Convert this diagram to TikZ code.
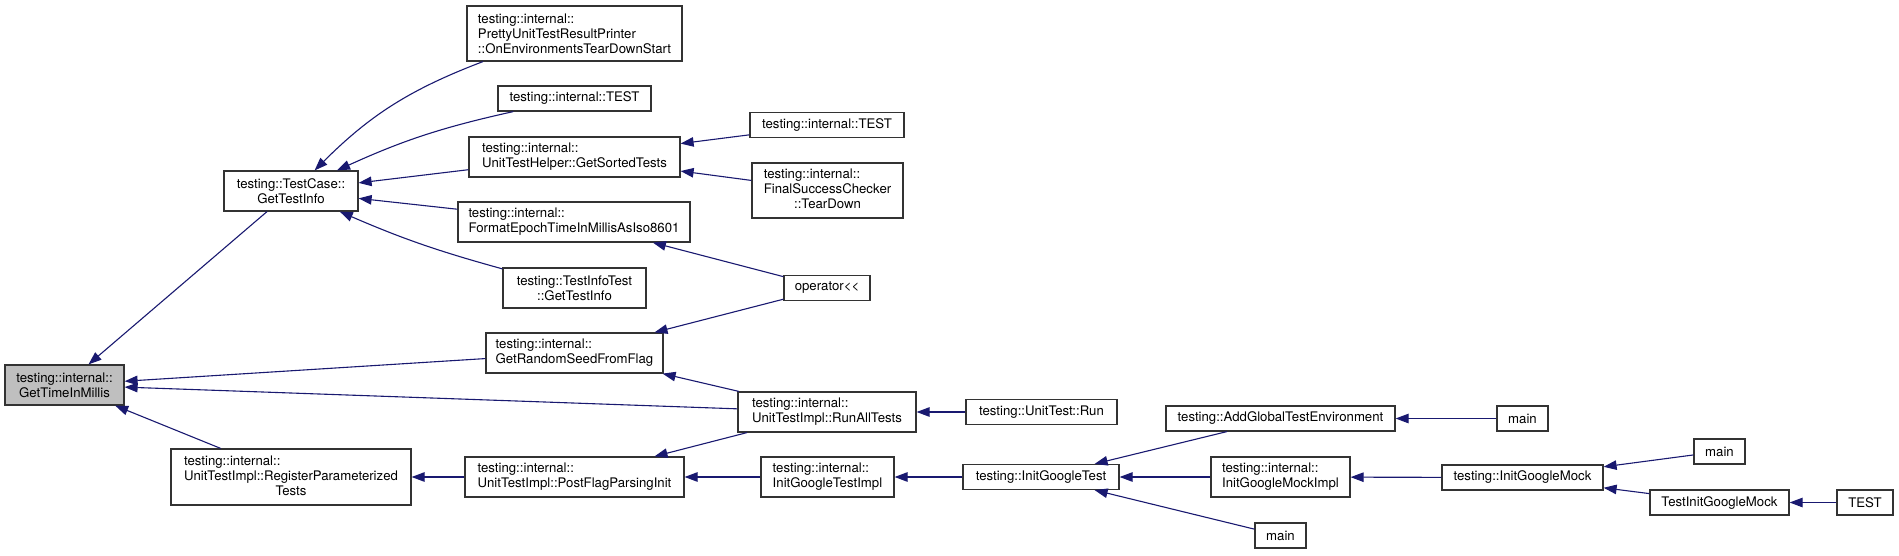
\documentclass[tikz,border=0pt]{standalone}
\usepackage{fontspec}
\setmainfont{TeX Gyre Heros}
\usetikzlibrary{arrows.meta}
\definecolor{callblue}{HTML}{191970}

\begin{document}
\begin{tikzpicture}[x=1pt, y=1pt,
  fn/.style={draw=black!80, line width=1.2pt, fill=white, inner sep=0pt, align=left, minimum height=25pt, font=\fontsize{13.2}{15}\selectfont},
  call/.style={draw=callblue, line width=1.1pt, -{Triangle[length=13pt,width=9.5pt]}}
]
\useasboundingbox (0,0) rectangle (1899,-555);
% function under inspection
\node[fn, fill=gray!50, align=center, minimum width=119pt, minimum height=40pt] (millis) at (64.5,-385) {testing::internal::\\GetTimeInMillis};
% first column of callers
\node[fn, align=center, minimum width=134pt, minimum height=40pt] (tcinfo) at (291,-191) {testing::TestCase::\\GetTestInfo};
\node[fn, minimum width=240pt, minimum height=56pt] (regparam) at (291,-477) {\begin{tabular}{@{}l@{}}testing::internal::\\UnitTestImpl::RegisterParameterized\\\multicolumn{1}{@{}c@{}}{Tests}\end{tabular}};
% second column
\node[fn, minimum width=215pt, minimum height=55pt] (pretty) at (574.5,-33.5) {testing::internal::\\PrettyUnitTestResultPrinter\\::OnEnvironmentsTearDownStart};
\node[fn, minimum width=153pt] (itest) at (574.5,-98.5) {testing::internal::TEST};
\node[fn, minimum width=211pt, minimum height=40pt] (sorted) at (574.5,-157) {testing::internal::\\UnitTestHelper::GetSortedTests};
\node[fn, minimum width=232pt, minimum height=40pt] (fmt) at (574,-222) {testing::internal::\\FormatEpochTimeInMillisAsIso8601};
\node[fn, align=center, minimum width=143pt, minimum height=40pt] (tiinfo) at (574.5,-288) {testing::TestInfoTest\\::GetTestInfo};
\node[fn, minimum width=177pt, minimum height=40pt] (seed) at (574.5,-353) {testing::internal::\\GetRandomSeedFromFlag};
\node[fn, minimum width=219pt, minimum height=40pt] (postinit) at (574.5,-477) {testing::internal::\\UnitTestImpl::PostFlagParsingInit};
% third column
\node[fn, minimum width=154pt] (itest2) at (827,-125) {testing::internal::TEST};
\node[fn, minimum width=151pt, minimum height=55pt] (tdown) at (827.5,-190.5) {\begin{tabular}{@{}l@{}}testing::internal::\\FinalSuccessChecker\\\multicolumn{1}{@{}c@{}}{::TearDown}\end{tabular}};
\node[fn, minimum width=86pt] (oper) at (827,-288) {operator<\kern0pt<};
\node[fn, minimum width=178pt, minimum height=40pt] (runall) at (827,-412) {testing::internal::\\UnitTestImpl::RunAllTests};
\node[fn, minimum width=133pt, minimum height=40pt] (gtimpl) at (827.5,-477) {testing::internal::\\InitGoogleTestImpl};
% fourth column
\node[fn, minimum width=151pt] (utrun) at (1041.5,-412) {testing::UnitTest::Run};
\node[fn, minimum width=156pt] (igtest) at (1041,-477) {testing::InitGoogleTest};
% fifth column
\node[fn, minimum width=229pt] (addenv) at (1280.5,-418.5) {testing::AddGlobalTestEnvironment};
\node[fn, minimum width=139pt, minimum height=40pt] (gmimpl) at (1280.5,-477) {testing::internal::\\InitGoogleMockImpl};
\node[fn, minimum width=51pt] (mainb) at (1280.5,-535.5) {main};
% sixth column and beyond
\node[fn, minimum width=51pt] (main1) at (1522.5,-418.5) {main};
\node[fn, minimum width=161pt] (igmock) at (1522.5,-477.5) {testing::InitGoogleMock};
\node[fn, minimum width=51pt] (main2) at (1719.5,-451.5) {main};
\node[fn, minimum width=139pt] (tigmock) at (1719.5,-502.5) {TestInitGoogleMock};
\node[fn, minimum width=56pt] (mtest) at (1865,-502.5) {TEST};
% calls, caller -> callee
\draw[call] (pretty) to[bend right=12] (tcinfo);
\draw[call] (itest) to[bend right=6] (tcinfo);
\draw[call] (tiinfo) to[bend left=4] (tcinfo);
\foreach \a/\b in {sorted/tcinfo, fmt/tcinfo, tcinfo/millis, seed/millis, runall/millis, regparam/millis,
  itest2/sorted, tdown/sorted, oper/fmt, oper/seed, runall/seed, postinit/regparam, runall/postinit, gtimpl/postinit,
  utrun/runall, igtest/gtimpl, addenv/igtest, gmimpl/igtest, mainb/igtest, main1/addenv, igmock/gmimpl,
  main2/igmock, tigmock/igmock, mtest/tigmock}
  \draw[call] (\a) -- (\b);
\end{tikzpicture}
\end{document}
